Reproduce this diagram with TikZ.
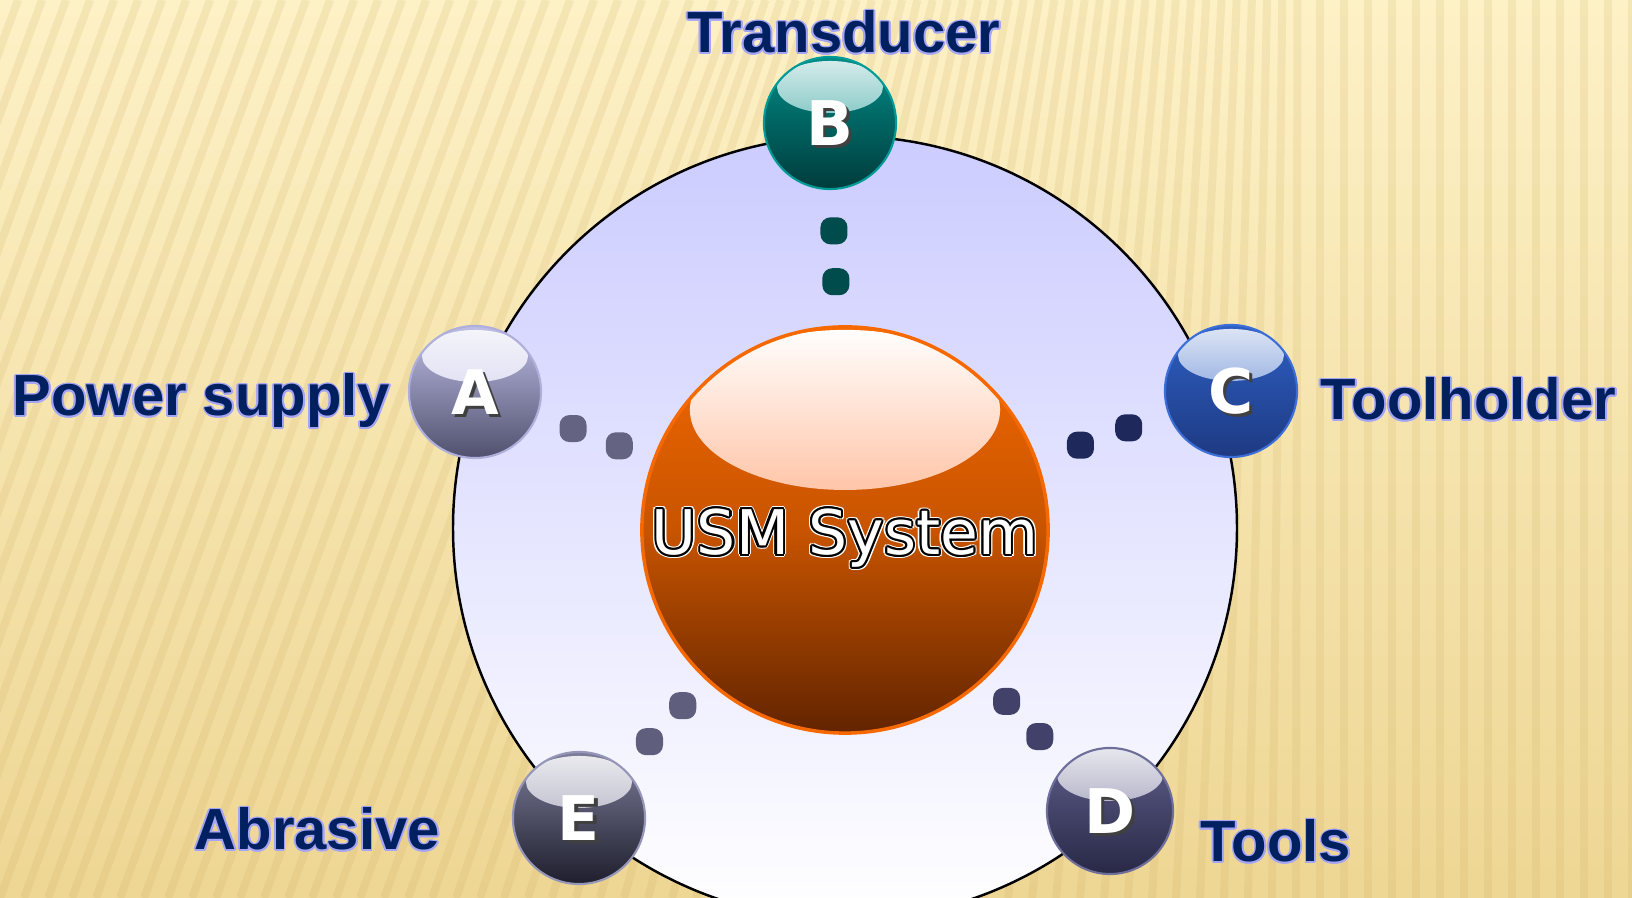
\documentclass[tikz,border=0pt]{standalone}
\usepackage{fontspec}
\setmainfont{Liberation Sans}
\newfontfamily\dejavu{DejaVu Sans}

% palette
\definecolor{paper}{RGB}{253,241,198}
\definecolor{paperdeep}{RGB}{238,214,148}
\definecolor{streak}{RGB}{205,172,95}
\definecolor{ringtop}{RGB}{204,204,255}
\definecolor{navy}{RGB}{0,32,96}
\definecolor{haze}{RGB}{165,165,245}
\definecolor{coretop}{RGB}{245,105,0}
\definecolor{coremid}{RGB}{200,84,0}
\definecolor{corebot}{RGB}{98,36,0}
\definecolor{coregloss}{RGB}{255,112,40}
\definecolor{topA}{RGB}{190,190,230}\definecolor{botA}{RGB}{80,80,110}\definecolor{rimA}{RGB}{175,175,220}
\definecolor{topB}{RGB}{0,140,135}\definecolor{botB}{RGB}{0,60,60}\definecolor{rimB}{RGB}{0,155,150}
\definecolor{topC}{RGB}{45,95,195}\definecolor{botC}{RGB}{30,58,130}\definecolor{rimC}{RGB}{60,110,215}
\definecolor{topD}{RGB}{95,95,140}\definecolor{botD}{RGB}{40,40,70}\definecolor{rimD}{RGB}{110,110,155}
\definecolor{topE}{RGB}{125,125,155}\definecolor{botE}{RGB}{30,30,45}\definecolor{rimE}{RGB}{150,150,185}
\definecolor{beadA}{RGB}{100,100,130}
\definecolor{beadB}{RGB}{0,75,75}
\definecolor{beadC}{RGB}{30,40,90}
\definecolor{beadD}{RGB}{65,65,105}
\definecolor{beadE}{RGB}{95,95,125}

% ring of offset copies behind a text (outline / glow)
\newlength{\halox}
\newlength{\haloy}
\newcommand{\halo}[3]{%
  \rlap{\color{#1}\foreach \ang in {0,30,...,330}{%
      \pgfmathsetlength{\halox}{#2*cos(\ang)}%
      \pgfmathsetlength{\haloy}{#2*sin(\ang)}%
      \rlap{\kern\halox\raisebox{\haloy}{#3}}}}}
% letter with a drop shadow
\newcommand{\shadowed}[1]{\rlap{\kern0.9pt\raisebox{-0.9pt}{\color{black!75}#1}}#1}

\begin{document}
\begin{tikzpicture}[x=0.01cm, y=-0.01cm,
    % Styles
    stripe/.style={line width=0.08cm, draw=streak, opacity=0.17},
    sphere/.style n args={3}{circle, minimum size=1.32cm, inner sep=0pt, text depth=0pt,
      draw=#3, line width=0.6pt, top color=#1, bottom color=#2, text=white,
      font=\dejavu\bfseries\fontsize{17.5}{20}\selectfont,
      path picture={\shade[top color=white!85!#1, bottom color=#1!85!white]
        ([yshift=0.36cm]path picture bounding box.center) ellipse [x radius=0.53cm, y radius=0.26cm];}},
    core/.style={circle, minimum size=4.06cm, inner sep=0pt, text depth=0pt,
      draw=coretop, line width=0.035cm, top color=coretop, bottom color=corebot, middle color=coremid,
      text=white, font=\dejavu\fontsize{17.5}{20}\selectfont,
      path picture={\shade[top color=white, bottom color=coregloss]
        ([yshift=1.2cm]path picture bounding box.center) ellipse [x radius=1.55cm, y radius=0.8cm];}},
    bead/.style={fill=#1, rounded corners=0.1cm, minimum size=0.27cm, inner sep=0pt},
    tag/.style={font=\bfseries\fontsize{16.5}{19}\selectfont, text=navy, inner sep=0pt}
]
  \useasboundingbox (0,0) rectangle (1632,898);

  % Background paper with slanted streaks
  \fill[top color=paper, bottom color=paperdeep] (0,0) rectangle (1632,898);
  \begin{scope}
    \clip (0,0) rectangle (1632,898);
    \foreach \b in {-336,-312,...,1656} {
      \pgfmathsetmacro{\tilt}{330*max(0,min(1,(1300-\b)/900))}
      \draw[stripe] (\b,898) -- ({\b+\tilt},0);
    }
  \end{scope}

  % Outer disc
  \coordinate (hub) at (845,528);
  \draw[line width=0.7pt, top color=ringtop, bottom color=white] (hub) circle (392);

  % Central sphere
  \node[core] (usm) at (845,530)
    {\halo{white}{0.95pt}{USM System}\halo{black}{0.6pt}{USM System}USM System};

  % Satellite spheres
  \node[sphere={topA}{botA}{rimA}] (psu)    at (475,392)  {\shadowed{A}};
  \node[sphere={topB}{botB}{rimB}] (trans)  at (830,123)  {\shadowed{B}};
  \node[sphere={topC}{botC}{rimC}] (holder) at (1231,391) {\shadowed{C}};
  \node[sphere={topD}{botD}{rimD}, minimum size=1.26cm] (tools) at (1110,811) {\shadowed{D}};
  \node[sphere={topE}{botE}{rimE}] (grit)   at (579,818)  {\shadowed{E}};

  % Dotted links towards the centre
  \foreach \ball/\tone in {psu/beadA, trans/beadB, holder/beadC, tools/beadD, grit/beadE} {
    \path (\ball.center) -- (usm.center)
      node[bead=\tone, pos=0.265] (\ball-near) {}
      node[bead=\tone, pos=0.39]  (\ball-far)  {};
  }

  % Labels
  \node[tag, anchor=base] (lbltrans) at (844,53)
    {\halo{haze}{0.5pt}{Transducer}Transducer};
  \node[tag, anchor=base west] (lblpsu) at (12,416)
    {\halo{haze}{0.5pt}{Power supply}Power supply};
  \node[tag, anchor=base west] (lblholder) at (1320,420)
    {\halo{haze}{0.5pt}{Toolholder}Toolholder};
  \node[tag, anchor=base west] (lblgrit) at (194,850)
    {\halo{haze}{0.5pt}{Abrasive}Abrasive};
  \node[tag, anchor=base west] (lbltools) at (1200,862)
    {\halo{haze}{0.5pt}{Tools}Tools};

\end{tikzpicture}
\end{document}
